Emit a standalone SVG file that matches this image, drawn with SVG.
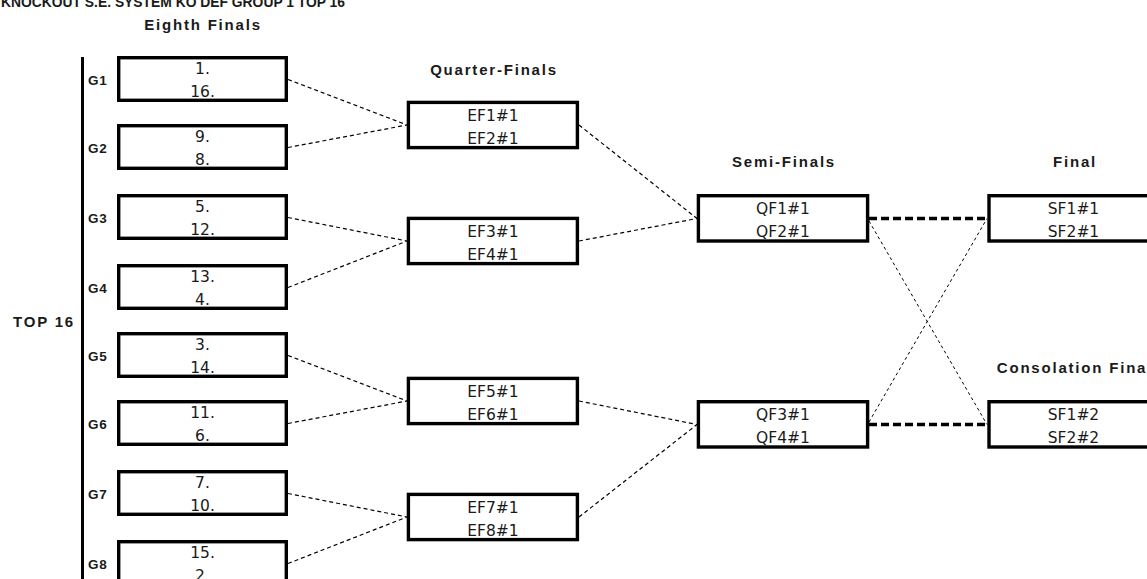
<svg xmlns="http://www.w3.org/2000/svg" width="1147" height="579" viewBox="0 0 1147 579">
<style>
.box{fill:#fff;stroke:#000;stroke-width:3.4}
.t{font-family:"DejaVu Sans",Verdana,sans-serif;font-size:15.5px;fill:#1a1a1a;text-anchor:middle}
.h{font-family:"Liberation Sans",Arial,sans-serif;font-size:15px;font-weight:bold;letter-spacing:1.8px;fill:#1a1a1a;text-anchor:middle}
.g{font-family:"Liberation Sans",Arial,sans-serif;font-size:13.5px;font-weight:bold;letter-spacing:0.8px;fill:#1a1a1a}
.c{fill:none;stroke:#000;stroke-width:1.2;stroke-dasharray:4 3}
.cx{fill:none;stroke:#000;stroke-width:1;stroke-dasharray:3 3}
.ck{fill:none;stroke:#000;stroke-width:3.4;stroke-dasharray:8 4}
</style>
<rect width="1147" height="579" fill="#fff"/>
<text x="1" y="6.5" font-family="Liberation Sans,Arial,sans-serif" font-size="14" font-weight="bold" fill="#1a1a1a" textLength="344" lengthAdjust="spacingAndGlyphs">KNOCKOUT S.E. SYSTEM KO DEF GROUP 1 TOP 16</text>
<g id="headings">
<text class="h" x="203" y="30">Eighth Finals</text>
<text class="h" x="494" y="75">Quarter-Finals</text>
<text class="h" x="784" y="167">Semi-Finals</text>
<text class="h" x="1075" y="167">Final</text>
<text class="h" x="1075" y="373">Consolation Final</text>
<text class="h" x="13" y="327" style="text-anchor:start">TOP 16</text>
</g>
<line x1="82.5" y1="57" x2="82.5" y2="579" stroke="#000" stroke-width="3"/>
<g id="connectors">
<path class="c" d="M288,79.5 L407,125 M288,147.5 L407,125"/>
<path class="c" d="M288,217.5 L407,241 M288,287.5 L407,241"/>
<path class="c" d="M288,355.5 L407,401 M288,423.5 L407,401"/>
<path class="c" d="M288,493.5 L407,517 M288,563.5 L407,517"/>
<path class="c" d="M579,125 L697,218.5 M579,241 L697,218.5"/>
<path class="c" d="M579,401 L697,424.5 M579,517 L697,424.5"/>
<path class="ck" d="M869,218.5 L987,218.5 M869,424.5 L987,424.5"/>
<path class="cx" d="M869,221 L987,424.5 M869,422 L987,218.5"/>
</g>
<g id="G1"><text class="g" x="88" y="85">G1</text><rect class="box" x="118.7" y="57.7" width="167.6" height="42.6"/><text class="t" x="202.5" y="74">1.</text><text class="t" x="202.5" y="97">16.</text></g>
<g id="G2"><text class="g" x="88" y="153">G2</text><rect class="box" x="118.7" y="125.7" width="167.6" height="42.6"/><text class="t" x="202.5" y="142">9.</text><text class="t" x="202.5" y="165">8.</text></g>
<g id="G3"><text class="g" x="88" y="223">G3</text><rect class="box" x="118.7" y="195.7" width="167.6" height="42.6"/><text class="t" x="202.5" y="212">5.</text><text class="t" x="202.5" y="235">12.</text></g>
<g id="G4"><text class="g" x="88" y="293">G4</text><rect class="box" x="118.7" y="265.7" width="167.6" height="42.6"/><text class="t" x="202.5" y="282">13.</text><text class="t" x="202.5" y="305">4.</text></g>
<g id="G5"><text class="g" x="88" y="361">G5</text><rect class="box" x="118.7" y="333.7" width="167.6" height="42.6"/><text class="t" x="202.5" y="350">3.</text><text class="t" x="202.5" y="373">14.</text></g>
<g id="G6"><text class="g" x="88" y="429">G6</text><rect class="box" x="118.7" y="401.7" width="167.6" height="42.6"/><text class="t" x="202.5" y="418">11.</text><text class="t" x="202.5" y="441">6.</text></g>
<g id="G7"><text class="g" x="88" y="499">G7</text><rect class="box" x="118.7" y="471.7" width="167.6" height="42.6"/><text class="t" x="202.5" y="488">7.</text><text class="t" x="202.5" y="511">10.</text></g>
<g id="G8"><text class="g" x="88" y="569">G8</text><rect class="box" x="118.7" y="541.7" width="167.6" height="42.6"/><text class="t" x="202.5" y="558">15.</text><text class="t" x="202.5" y="581">2.</text></g>
<g id="EF12"><rect class="box" x="408.4" y="102.4" width="169" height="45.2"/><text class="t" x="493" y="120.5">EF1#1</text><text class="t" x="493" y="143.5">EF2#1</text></g>
<g id="EF34"><rect class="box" x="408.4" y="218.4" width="169" height="45.2"/><text class="t" x="493" y="236.5">EF3#1</text><text class="t" x="493" y="259.5">EF4#1</text></g>
<g id="EF56"><rect class="box" x="408.4" y="378.4" width="169" height="45.2"/><text class="t" x="493" y="396.5">EF5#1</text><text class="t" x="493" y="419.5">EF6#1</text></g>
<g id="EF78"><rect class="box" x="408.4" y="494.4" width="169" height="45.2"/><text class="t" x="493" y="512.5">EF7#1</text><text class="t" x="493" y="535.5">EF8#1</text></g>
<g id="SF1"><rect class="box" x="698.4" y="195.7" width="169.2" height="45.3"/><text class="t" x="783" y="213.5">QF1#1</text><text class="t" x="783" y="237">QF2#1</text></g>
<g id="SF2"><rect class="box" x="698.4" y="401.7" width="169.2" height="45.3"/><text class="t" x="783" y="419.5">QF3#1</text><text class="t" x="783" y="443">QF4#1</text></g>
<g id="Final"><rect class="box" x="989" y="195.7" width="170" height="45.3"/><text class="t" x="1073.5" y="213.5">SF1#1</text><text class="t" x="1073.5" y="237">SF2#1</text></g>
<g id="Consolation"><rect class="box" x="989" y="401.7" width="170" height="45.3"/><text class="t" x="1073.5" y="419.5">SF1#2</text><text class="t" x="1073.5" y="443">SF2#2</text></g>
</svg>
